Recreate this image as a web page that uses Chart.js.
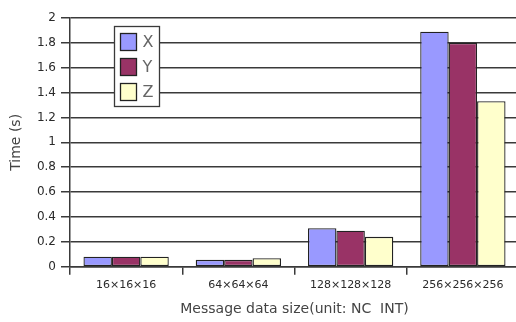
<!DOCTYPE html>
<html>
<head>
<meta charset="utf-8">
<script src="https://cdn.jsdelivr.net/npm/chart.js@4/dist/chart.umd.min.js"></script>
<style>
  html, body { margin: 0; padding: 0; background: #fff; overflow: hidden; }
  #wrap { position: relative; width: 519px; height: 322px; }
</style>
</head>
<body>
<div id="wrap"><canvas id="chart"></canvas></div>
<script>
// Message sizes (x categories)
const categories = ['16×16×16', '64×64×64', '128×128×128', '256×256×256'];

// Time in seconds per series
const seriesX = [0.08, 0.055, 0.31, 1.89];
const seriesY = [0.08, 0.055, 0.29, 1.80];
const seriesZ = [0.08, 0.068, 0.24, 1.33];

// Y axis tick values
const timeTicks = [0, 0.2, 0.4, 0.6, 0.8, 1, 1.2, 1.4, 1.6, 1.8, 2];

const FONT = "'DejaVu Sans', Verdana, sans-serif";
const LINE = '#3a3a3a';

// Boxed legend drawn inside the plot area, top-left
const boxLegend = {
  id: 'boxLegend',
  afterDatasetsDraw(chart) {
    const { ctx, chartArea } = chart;
    const x0 = Math.round(chartArea.left + 44) + 0.5;
    const y0 = Math.round(chartArea.top + 8) + 0.5;
    const w = 45, rowH = 25, h = 80;
    ctx.save();
    ctx.fillStyle = '#fff';
    ctx.strokeStyle = LINE;
    ctx.lineWidth = 1.3;
    ctx.fillRect(x0, y0, w, h);
    ctx.strokeRect(x0, y0, w, h);
    ctx.font = '16px ' + FONT;
    ctx.textBaseline = 'middle';
    chart.data.datasets.forEach((ds, i) => {
      const sy = y0 + 7 + i * rowH;
      ctx.fillStyle = ds.backgroundColor;
      ctx.fillRect(x0 + 6, sy, 16, 17);
      ctx.strokeStyle = '#222';
      ctx.strokeRect(x0 + 6, sy, 16, 17);
      ctx.fillStyle = '#666';
      ctx.fillText(ds.label, x0 + 28, sy + 9);
    });
    ctx.restore();
  }
};

new Chart(document.getElementById('chart'), {
  type: 'bar',
  data: {
    labels: categories,
    datasets: [
      { label: 'X', data: seriesX, backgroundColor: '#9999ff' },
      { label: 'Y', data: seriesY, backgroundColor: '#993366' },
      { label: 'Z', data: seriesZ, backgroundColor: '#ffffcc' }
    ].map(d => Object.assign(d, {
      borderColor: '#222',
      borderWidth: 1.3,
      borderSkipped: false,
      categoryPercentage: 0.76,
      barPercentage: 1
    }))
  },
  options: {
    responsive: true,
    maintainAspectRatio: false,
    animation: false,
    layout: { padding: { top: 18, right: 0, bottom: 0, left: 0 } },
    plugins: {
      legend: { display: false },
      tooltip: { enabled: false }
    },
    scales: {
      x: {
        offset: true,
        grid: {
          offset: true,
          drawOnChartArea: false,
          drawTicks: true,
          tickLength: 8,
          color: LINE,
          lineWidth: 1.5
        },
        border: { color: LINE, width: 1.5 },
        ticks: {
          color: '#2a2a2a',
          font: { family: FONT, size: 11 },
          padding: 4,
          maxRotation: 0,
          autoSkip: false
        },
        title: {
          display: true,
          text: 'Message data size(unit: NC  INT)',
          color: '#444',
          font: { family: FONT, size: 14 },
          padding: { top: 0, bottom: 4 }
        },
        afterFit(scale) { scale.height = 55.3; }
      },
      y: {
        min: 0,
        max: 2,
        afterBuildTicks(scale) {
          scale.ticks = timeTicks.map(v => ({ value: v }));
        },
        grid: {
          color: LINE,
          lineWidth: 1.5,
          drawTicks: true,
          tickLength: 9
        },
        border: { color: LINE, width: 1.5 },
        ticks: {
          color: '#2a2a2a',
          font: { family: FONT, size: 12 },
          padding: 5,
          callback: v => String(Number(v.toFixed(1)))
        },
        title: {
          display: true,
          text: 'Time (s)',
          color: '#444',
          font: { family: FONT, size: 14 },
          padding: { top: 8, bottom: 0 }
        },
        afterFit(scale) { scale.width = 70; }
      }
    }
  },
  plugins: [boxLegend]
});
</script>
</body>
</html>
